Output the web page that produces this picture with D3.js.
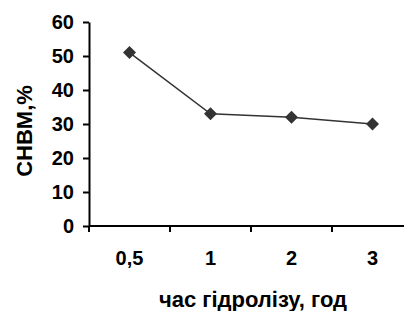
<!DOCTYPE html>
<html>
<head>
<meta charset="utf-8">
<script src="https://cdn.jsdelivr.net/npm/d3@7"></script>
<style>
  body { margin: 0; background: #fff; }
  text { font-family: Arial, "Liberation Sans", sans-serif; font-weight: bold; }
</style>
</head>
<body>
<script>
// data
var categories = ["0,5", "1", "2", "3"];
var values = [51, 33, 32, 30];
var yTicks = [0, 10, 20, 30, 40, 50, 60];

var W = 404, H = 311;
var x0 = 89, y0 = 226, yTop = 22;

var svg = d3.select("body")
    .append("svg")
    .attr("width", W)
    .attr("height", H);

var x = d3.scaleBand()
    .domain(categories)
    .range([x0, x0 + 81 * 4]);

var y = d3.scaleLinear()
    .domain([0, 60])
    .range([y0, yTop]);

// y axis
var yAxis = svg.append("g")
    .attr("transform", "translate(" + x0 + ",0)")
    .call(d3.axisLeft(y).tickValues(yTicks).tickSize(6).tickPadding(9).tickSizeOuter(0));

// x axis, ticks between categories
var xAxis = svg.append("g")
    .attr("transform", "translate(0," + y0 + ")");
xAxis.append("line")
    .attr("x1", x0).attr("x2", x0 + 81 * 4)
    .attr("y1", 0).attr("y2", 0)
    .attr("stroke", "#000").attr("stroke-width", 2);
xAxis.selectAll(".tk")
    .data(categories)
    .enter()
    .append("line")
    .attr("x1", function(d) { return x(d); })
    .attr("x2", function(d) { return x(d); })
    .attr("y1", 0).attr("y2", 6)
    .attr("stroke", "#000").attr("stroke-width", 2);
xAxis.selectAll(".lb")
    .data(categories)
    .enter()
    .append("text")
    .attr("x", function(d) { return x(d) + x.bandwidth() / 2; })
    .attr("y", 39)
    .attr("text-anchor", "middle")
    .attr("font-size", "20px")
    .attr("fill", "#000")
    .text(function(d) { return d; });

yAxis.selectAll("path").attr("stroke", "#000").attr("stroke-width", 2);
yAxis.selectAll("line").attr("stroke", "#000").attr("stroke-width", 2);
yAxis.selectAll("text")
    .attr("font-size", "20px")
    .attr("font-family", "Arial, 'Liberation Sans', sans-serif")
    .attr("font-weight", "bold")
    .attr("fill", "#000");

// line
var pts = categories.map(function(c, i) { return { c: c, v: values[i] }; });
var line = d3.line()
    .x(function(d) { return x(d.c) + x.bandwidth() / 2; })
    .y(function(d) { return y(d.v); });

svg.append("path")
    .datum(pts)
    .attr("d", line)
    .attr("fill", "none")
    .attr("stroke", "#333")
    .attr("stroke-width", 1.5);

svg.selectAll(".mk")
    .data(pts)
    .enter()
    .append("path")
    .attr("transform", function(d) {
        return "translate(" + (x(d.c) + x.bandwidth() / 2) + "," + y(d.v) + ")";
    })
    .attr("d", "M0,-6.5L6.5,0L0,6.5L-6.5,0Z")
    .attr("fill", "#333");

// titles
svg.append("text")
    .attr("x", 253)
    .attr("y", 307)
    .attr("text-anchor", "middle")
    .attr("font-size", "22px")
    .text("час гідролізу, год");

svg.append("text")
    .attr("transform", "translate(32,131) rotate(-90)")
    .attr("text-anchor", "middle")
    .attr("font-size", "22px")
    .text("СНВМ,%");
</script>
</body>
</html>
